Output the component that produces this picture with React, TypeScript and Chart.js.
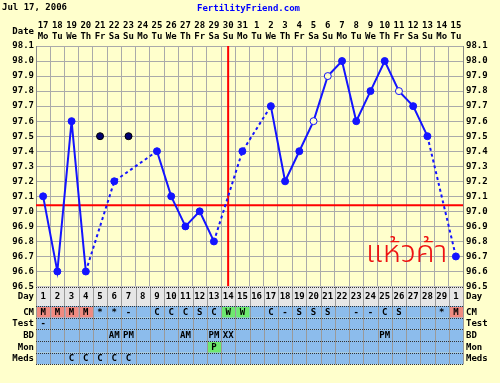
import React, { useEffect, useRef } from "react";
import { Chart, registerables } from "chart.js";

Chart.register(...registerables);

const chartTitleDate = "Jul 17, 2006";
const siteName = "FertilityFriend.com";
const note = "แห้วค้า";

const dates = ["17", "18", "19", "20", "21", "22", "23", "24", "25", "26", "27", "28", "29", "30", "31", "1", "2", "3", "4", "5", "6", "7", "8", "9", "10", "11", "12", "13", "14", "15"];
const weekdays = ["Mo", "Tu", "We", "Th", "Fr", "Sa", "Su", "Mo", "Tu", "We", "Th", "Fr", "Sa", "Su", "Mo", "Tu", "We", "Th", "Fr", "Sa", "Su", "Mo", "Tu", "We", "Th", "Fr", "Sa", "Su", "Mo", "Tu"];
const cycleDays = ["1", "2", "3", "4", "5", "6", "7", "8", "9", "10", "11", "12", "13", "14", "15", "16", "17", "18", "19", "20", "21", "22", "23", "24", "25", "26", "27", "28", "29", "1"];

const temps: (number | null)[] = [97.1, 96.6, 97.6, 96.6, null, 97.2, null, null, 97.4, 97.1, 96.9, 97.0, 96.8, null, 97.4, null, 97.7, 97.2, 97.4, 97.6, 97.9, 98.0, 97.6, 97.8, 98.0, 97.8, 97.7, 97.5, null, 96.7];
const ignoredTemps: (number | null)[] = [null, null, null, null, 97.5, null, 97.5, null, null, null, null, null, null, null, null, null, null, null, null, null, null, null, null, null, null, null, null, null, null, null];
const openPointDays = [20, 21, 26];

const coverline = 97.04;
const ovulationDay = 14;
const tempMin = 96.5;
const tempMax = 98.1;

const rowLabels = ["CM", "Test", "BD", "Mon", "Meds"];
const cmRow = ["M", "M", "M", "M", "*", "*", "-", "", "C", "C", "C", "S", "C", "W", "W", "", "C", "-", "S", "S", "S", "", "-", "-", "C", "S", "", "", "*", "M"];
const testRow = ["-", "", "", "", "", "", "", "", "", "", "", "", "", "", "", "", "", "", "", "", "", "", "", "", "", "", "", "", "", ""];
const bdRow = ["", "", "", "", "", "AM", "PM", "", "", "", "AM", "", "PM", "XX", "", "", "", "", "", "", "", "", "", "", "PM", "", "", "", "", ""];
const monRow = ["", "", "", "", "", "", "", "", "", "", "", "", "P", "", "", "", "", "", "", "", "", "", "", "", "", "", "", "", "", ""];
const medsRow = ["", "", "C", "C", "C", "C", "C", "", "", "", "", "", "", "", "", "", "", "", "", "", "", "", "", "", "", "", "", "", "", ""];

const FONT = 'bold 9px "DejaVu Sans Mono", monospace';
const BG = "#ffffcc";
const BLUE = "#1414ff";

const cellColor = (v: string) => {
  if (v === "M") return "#f08a80";
  if (v === "W" || v === "P") return "#6ee86e";
  return null;
};

const drawPlugin = {
  id: "ffTable",
  beforeDraw(chart: any) {
    const ctx = chart.ctx;
    ctx.save();
    ctx.fillStyle = BG;
    ctx.fillRect(0, 0, chart.width, chart.height);
    ctx.restore();
  },
  afterDraw(chart: any) {
    const ctx: CanvasRenderingContext2D = chart.ctx;
    const xs = chart.scales.x;
    const area = chart.chartArea;
    const L = area.left;
    const R = area.right;
    ctx.save();
    ctx.font = FONT;
    ctx.textBaseline = "middle";

    // titles
    ctx.fillStyle = "#000";
    ctx.textAlign = "left";
    ctx.fillText(chartTitleDate, 2, 8);
    ctx.fillStyle = "#0000ff";
    ctx.textAlign = "center";
    ctx.fillText(siteName, 248.5, 9);

    // header
    ctx.fillStyle = "#000";
    ctx.textAlign = "right";
    ctx.fillText("Date", 34, 32);
    ctx.textAlign = "center";
    dates.forEach((d, i) => {
      const cx = xs.getPixelForValue(i + 0.5);
      ctx.fillText(d, cx, 26);
      ctx.fillText(weekdays[i], cx, 37);
    });

    // day row
    const dayTop = area.bottom;
    const dayBot = 306;
    ctx.fillStyle = "#e6e6e6";
    ctx.fillRect(L, dayTop, R - L, dayBot - dayTop);

    const rowTops = [306, 317.7, 329.3, 341, 352.7];
    const rowH = 11.65;
    const rows = [cmRow, testRow, bdRow, monRow, medsRow];
    rows.forEach((row, r) => {
      const top = rowTops[r];
      ctx.fillStyle = "#8cbcec";
      ctx.fillRect(L, top, R - L, rowH);
      row.forEach((v, i) => {
        const c = cellColor(v);
        if (c) {
          const x0 = xs.getPixelForValue(i);
          const x1 = xs.getPixelForValue(i + 1);
          ctx.fillStyle = c;
          ctx.fillRect(x0 + 1, top + 1, x1 - x0 - 1, rowH - 1);
        }
      });
    });

    // vertical grid in table
    ctx.strokeStyle = "#9a9a9a";
    ctx.lineWidth = 1;
    for (let i = 0; i <= dates.length; i++) {
      const px = Math.round(xs.getPixelForValue(i)) + 0.5;
      ctx.beginPath();
      ctx.moveTo(px, dayTop);
      ctx.lineTo(px, rowTops[4] + rowH);
      ctx.stroke();
    }
    // horizontal separators
    ctx.strokeStyle = "#333";
    ctx.setLineDash([1, 1]);
    [dayTop, ...rowTops, rowTops[4] + rowH].forEach((y) => {
      const py = Math.round(y) + 0.5;
      ctx.beginPath();
      ctx.moveTo(L, py);
      ctx.lineTo(R, py);
      ctx.stroke();
    });
    ctx.setLineDash([]);

    // texts
    ctx.fillStyle = "#000";
    ctx.textAlign = "right";
    ctx.fillText("Day", 34, 297);
    ctx.textAlign = "left";
    ctx.fillText("Day", 466, 297);
    ctx.textAlign = "center";
    cycleDays.forEach((d, i) => {
      ctx.fillText(d, xs.getPixelForValue(i + 0.5), 297);
    });
    rows.forEach((row, r) => {
      const cy = rowTops[r] + rowH / 2 + 0.5;
      ctx.textAlign = "right";
      ctx.fillText(rowLabels[r], 34, cy);
      ctx.textAlign = "left";
      ctx.fillText(rowLabels[r], 466, cy);
      ctx.textAlign = "center";
      row.forEach((v, i) => {
        if (v) ctx.fillText(v, xs.getPixelForValue(i + 0.5), cy);
      });
    });

    // handwritten note
    ctx.fillStyle = "#ee1111";
    ctx.font = '300 31px "Noto Sans Thai", "Noto Sans", sans-serif';
    ctx.textAlign = "left";
    ctx.textBaseline = "alphabetic";
    ctx.fillText(note, 366, 262);
    ctx.restore();
  },
};

export default function App() {
  const ref = useRef<HTMLCanvasElement>(null);
  useEffect(() => {
    document.body.style.margin = "0";
    const canvas = ref.current!;
    const tempPoints = temps.map((t, i) => ({ x: i + 0.5, y: t }));
    const ignoredPoints = ignoredTemps
      .map((t, i) => ({ x: i + 0.5, y: t }))
      .filter((p) => p.y !== null);
    const pointFill = temps.map((_, i) => (openPointDays.includes(i + 1) ? BG : BLUE));
    const chart = new Chart(canvas, {
      type: "line",
      data: {
        datasets: [
          {
            data: tempPoints as any,
            borderColor: BLUE,
            borderWidth: 2,
            pointRadius: 3.5,
            pointBorderWidth: 1,
            pointBorderColor: BLUE,
            pointBackgroundColor: pointFill,
            spanGaps: true,
            tension: 0,
            order: 0,
            segment: {
              borderDash: (c: any) => (c.p0.skip || c.p1.skip ? [3, 3] : undefined),
            },
          },
          {
            data: ignoredPoints as any,
            showLine: false,
            pointRadius: 3.5,
            pointBorderWidth: 1,
            pointBorderColor: "#000",
            pointBackgroundColor: "#000070",
            order: 1,
          },
          {
            data: [
              { x: 0, y: coverline },
              { x: dates.length, y: coverline },
            ],
            borderColor: "#ff0000",
            borderWidth: 2,
            pointRadius: 0,
            order: 2,
          },
          {
            data: [
              { x: ovulationDay - 0.5, y: tempMin },
              { x: ovulationDay - 0.5, y: tempMax },
            ],
            borderColor: "#ff0000",
            borderWidth: 2,
            pointRadius: 0,
            order: 3,
          },
        ],
      },
      options: {
        responsive: false,
        animation: false,
        devicePixelRatio: 1,
        layout: { padding: { top: 46, left: 0, right: 0, bottom: 0 } },
        plugins: { legend: { display: false }, tooltip: { enabled: false } },
        scales: {
          x: {
            type: "linear",
            position: "bottom",
            min: 0,
            max: dates.length,
            ticks: { display: false, stepSize: 1 },
            grid: { color: "#aaaaaa", drawTicks: false },
            border: { display: false },
            afterFit: (s: any) => {
              s.height = 96.5;
            },
          },
          y: {
            position: "left",
            min: tempMin,
            max: tempMax,
            ticks: {
              stepSize: 0.1,
              autoSkip: false,
              padding: 2,
              color: "#000",
              font: { family: '"DejaVu Sans Mono", monospace', size: 9, weight: "bold" },
              callback: (v: any) => Number(v).toFixed(1),
            },
            grid: { color: "#aaaaaa", drawTicks: false },
            border: { color: "#888" },
            afterFit: (s: any) => {
              s.width = 36;
            },
          },
          y2: {
            position: "right",
            min: tempMin,
            max: tempMax,
            ticks: {
              stepSize: 0.1,
              autoSkip: false,
              padding: 3,
              color: "#000",
              font: { family: '"DejaVu Sans Mono", monospace', size: 9, weight: "bold" },
              callback: (v: any) => Number(v).toFixed(1),
            },
            grid: { display: false, drawTicks: false },
            border: { color: "#888" },
            afterFit: (s: any) => {
              s.width = 37;
            },
          },
        },
      },
      plugins: [drawPlugin],
    } as any);
    return () => chart.destroy();
  }, []);
  return <canvas ref={ref} width={500} height={383} style={{ display: "block", width: 500, height: 383 }} />;
}
